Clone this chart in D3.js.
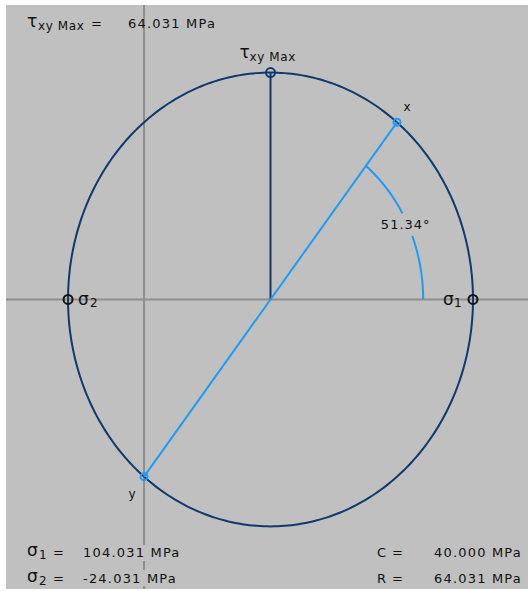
<!DOCTYPE html>
<html>
<head>
<meta charset="utf-8">
<script src="https://cdn.jsdelivr.net/npm/d3@7"></script>
<style>
  html, body { margin: 0; padding: 0; background: #ffffff; }
  svg { display: block; }
  text { font-family: "DejaVu Sans", Verdana, sans-serif; fill: #111111; }
</style>
</head>
<body>
<svg id="chart" width="528" height="591"></svg>
<script>
// ---- data ----
const pointX = [80, 50];          // (sigma_x, tau_xy)
const pointY = [0, -50];          // (sigma_y, -tau_xy)
const centerRadius = [40.000, 64.031];   // C, R
const principal = [104.031, -24.031];    // sigma1, sigma2
const tauMax = [64.031];
const angle2Theta = [51.34];
const arcGapDeg = [21.8, 30.2];          // gap in angle arc for its label
const arcRadiusFrac = [0.754];           // angle arc radius as fraction of R
const sigmaDomain = [-43.65, 121.43];
const tauDomain = [83.1, -81.7];

// ---- layout ----
const svg = d3.select("#chart");
const panel = { x0: 6, x1: 528, y0: 5, y1: 589 };
const xS = d3.scaleLinear().domain(sigmaDomain).range([panel.x0, panel.x1]);
const yS = d3.scaleLinear().domain(tauDomain).range([panel.y0, panel.y1]);

const NAVY = "#0f3a6b", BLUE = "#1f9bf5", AXIS = "#8e8e8e", BG = "#c0c0c0";

svg.append("rect").attr("x", panel.x0).attr("y", panel.y0)
  .attr("width", panel.x1 - panel.x0).attr("height", panel.y1 - panel.y0)
  .attr("fill", BG);

// axes
svg.append("line").attr("x1", panel.x0).attr("x2", panel.x1)
  .attr("y1", yS(0)).attr("y2", yS(0))
  .attr("stroke", AXIS).attr("stroke-width", 2);
svg.append("line").attr("x1", xS(0)).attr("x2", xS(0))
  .attr("y1", panel.y0).attr("y2", panel.y1)
  .attr("stroke", AXIS).attr("stroke-width", 2);

const C = centerRadius[0], R = centerRadius[1];
const rad = d => d * Math.PI / 180;

// Mohr circle (drawn in data space -> ellipse on screen)
const circlePts = d3.range(0, 361, 1).map(a => [C + R * Math.cos(rad(a)), R * Math.sin(rad(a))]);
const line = d3.line().x(d => xS(d[0])).y(d => yS(d[1]));
svg.append("path").attr("d", line(circlePts))
  .attr("fill", "none").attr("stroke", NAVY).attr("stroke-width", 2);

// tau max vertical line
svg.append("line").attr("x1", xS(C)).attr("x2", xS(C))
  .attr("y1", yS(0)).attr("y2", yS(tauMax[0]))
  .attr("stroke", NAVY).attr("stroke-width", 2);

// x-y diameter
svg.append("line").attr("x1", xS(pointX[0])).attr("y1", yS(pointX[1]))
  .attr("x2", xS(pointY[0])).attr("y2", yS(pointY[1]))
  .attr("stroke", BLUE).attr("stroke-width", 2);

// angle arc (with gap for label)
const ar = R * arcRadiusFrac[0];
const arcSeg = (a0, a1) => d3.range(a0, a1, 0.5).concat([a1])
  .map(a => [C + ar * Math.cos(rad(a)), ar * Math.sin(rad(a))]);
[[0, arcGapDeg[0]], [arcGapDeg[1], angle2Theta[0]]].forEach(s => {
  svg.append("path").attr("d", line(arcSeg(s[0], s[1])))
    .attr("fill", "none").attr("stroke", BLUE).attr("stroke-width", 2);
});

// markers
function marker(sx, ty, r, color) {
  svg.append("circle").attr("cx", xS(sx)).attr("cy", yS(ty)).attr("r", r)
    .attr("fill", "none").attr("stroke", color).attr("stroke-width", 2);
}
marker(principal[0], 0, 4.5, "#111111");
marker(principal[1], 0, 4.5, "#111111");
marker(C, tauMax[0], 4.5, NAVY);
marker(pointX[0], pointX[1], 3.5, BLUE);
marker(pointY[0], pointY[1], 3.5, BLUE);

// ---- texts ----
function txt(x, y, s, size, opts = {}) {
  const t = svg.append("text").attr("x", x).attr("y", y).text(s)
    .style("font-size", size + "px");
  if (opts.ls !== undefined) t.style("letter-spacing", opts.ls + "px");
  if (opts.anchor) t.attr("text-anchor", opts.anchor);
  return t;
}
const fmt3 = v => v.toFixed(3);

// top-left tau max
txt(27, 27, "τ", 17);
txt(38, 30, "xy Max", 12, { ls: 0.6 });
txt(91, 27.5, "=", 13);
txt(128, 27.5, fmt3(tauMax[0]) + " MPa", 13, { ls: 1.2 });

// tau max label on circle
const tx = xS(C), ty = yS(tauMax[0]);
txt(tx - 31, ty - 15, "τ", 17);
txt(tx - 21, ty - 12, "xy Max", 12, { ls: 0.6 });

// sigma labels
txt(xS(principal[0]) - 30, yS(0) + 6, "σ", 17);
txt(xS(principal[0]) - 19, yS(0) + 8, "1", 12);
txt(xS(principal[1]) + 10, yS(0) + 6, "σ", 17);
txt(xS(principal[1]) + 22, yS(0) + 8, "2", 12);

// x / y labels
txt(xS(pointX[0]) + 10, yS(pointX[1]) - 11, "x", 12, { anchor: "middle" });
txt(xS(pointY[0]) - 12, yS(pointY[1]) + 21, "y", 12, { anchor: "middle" });

// angle label
const labA = (arcGapDeg[0] + arcGapDeg[1]) / 2;
txt(xS(C + ar * Math.cos(rad(labA))) - 2, yS(ar * Math.sin(rad(labA))) + 5,
  angle2Theta[0].toFixed(2) + "°", 13, { anchor: "middle", ls: 1 });

// bottom-left: principal stresses (background boxes hide axis behind text)
svg.append("rect").attr("x", 80).attr("y", 545).attr("width", 105).attr("height", 16).attr("fill", BG);
svg.append("rect").attr("x", 80).attr("y", 570).attr("width", 105).attr("height", 16).attr("fill", BG);
txt(27, 555.5, "σ", 17);
txt(39, 559, "1", 12);
txt(53, 557, "=", 13);
txt(83, 557, fmt3(principal[0]) + " MPa", 13, { ls: 1.2 });
txt(27, 581.5, "σ", 17);
txt(39, 585, "2", 12);
txt(53, 583, "=", 13);
txt(83, 583, fmt3(principal[1]) + " MPa", 13, { ls: 1.2 });

// bottom-right: C and R
txt(377, 557, "C", 13);
txt(392, 557, "=", 13);
txt(522, 557, fmt3(C) + " MPa", 13, { anchor: "end", ls: 1.2 });
txt(377, 583, "R", 13);
txt(392, 583, "=", 13);
txt(522, 583, fmt3(R) + " MPa", 13, { anchor: "end", ls: 1.2 });
</script>
</body>
</html>
